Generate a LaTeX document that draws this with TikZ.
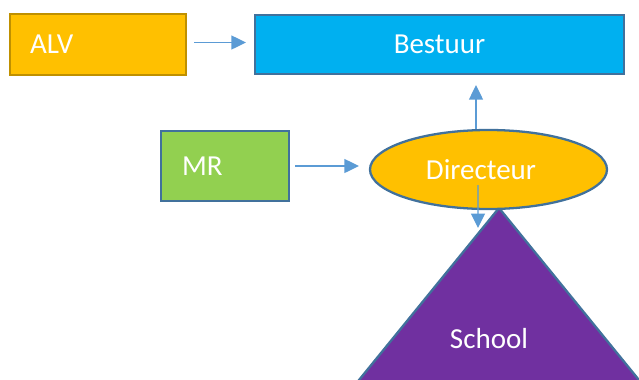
\documentclass[tikz,border=0pt]{standalone}
\usepackage{fontspec}
\setmainfont{Carlito}
\usepackage{xcolor}
\usetikzlibrary{arrows.meta, shapes}

\definecolor{goud}{HTML}{FFC000}
\definecolor{goudrand}{HTML}{BF9000}
\definecolor{blauw}{HTML}{00B0F0}
\definecolor{groen}{HTML}{92D050}
\definecolor{paars}{HTML}{7030A0}
\definecolor{rand}{HTML}{41719C}
\definecolor{lijn}{HTML}{5B9BD5}

\tikzset{
	tekst/.style={text=white, font=\fontsize{16.5}{20}\selectfont},
	blok/.style={tekst, draw=rand, line width=1.3pt, inner sep=0pt},
	pijl/.style={draw=lijn, line width=0.8pt, -{Triangle[length=2.9mm,width=2.8mm,lijn]}}
}

\begin{document}
\begin{tikzpicture}
	\useasboundingbox (0,0) rectangle (12.78,7.58);
	\clip (0,0) rectangle (12.78,7.58);
	
	%Bovenste rij
	\node[blok, fill=goud, draw=goudrand, minimum width=3.52cm, minimum height=1.22cm, text width=2.72cm, align=left, inner xsep=0.4cm] (alv) at (1.96,6.69) {ALV};
	\node[blok, fill=blauw, minimum width=7.38cm, minimum height=1.18cm] (bestuur) at (8.79,6.69) {Bestuur};
	
	%Midden
	\node[blok, fill=groen, minimum width=2.56cm, minimum height=1.40cm, text width=1.72cm, align=left, inner xsep=0.42cm] (mr) at (4.5,4.26) {MR};
	
	%School
	\coordinate (top) at (9.98,3.42);
	\draw[draw=rand, line width=1.3pt, fill=paars] (top) -- (6.79,-0.5) -- (13.17,-0.5) -- cycle;
	\node[tekst] (school) at (9.78,0.80) {School};
	
	\node[blok, ellipse, fill=goud, minimum width=4.74cm, minimum height=1.58cm, label={[tekst, xshift=-1.5mm]center:Directeur}] (dir) at (9.77,4.19) {};
	
	%Pijlen
	\draw[pijl, shorten <=1.4mm, shorten >=1.6mm] ([yshift=0.4mm]alv.east) -- ([yshift=0.4mm]bestuur.west);
	\draw[pijl, shorten <=1mm, shorten >=2mm] (mr.east) -- (mr.east -| dir.west);
	\draw[pijl, shorten >=2mm] ([xshift=-2.5mm]dir.north) -- ([xshift=-2.5mm]dir.north |- bestuur.south);
	\draw[pijl] ([xshift=-2.1mm,yshift=-3.1mm]dir.center) -- ([xshift=-4.2mm,yshift=-4mm]top);
	
\end{tikzpicture}
\end{document}
